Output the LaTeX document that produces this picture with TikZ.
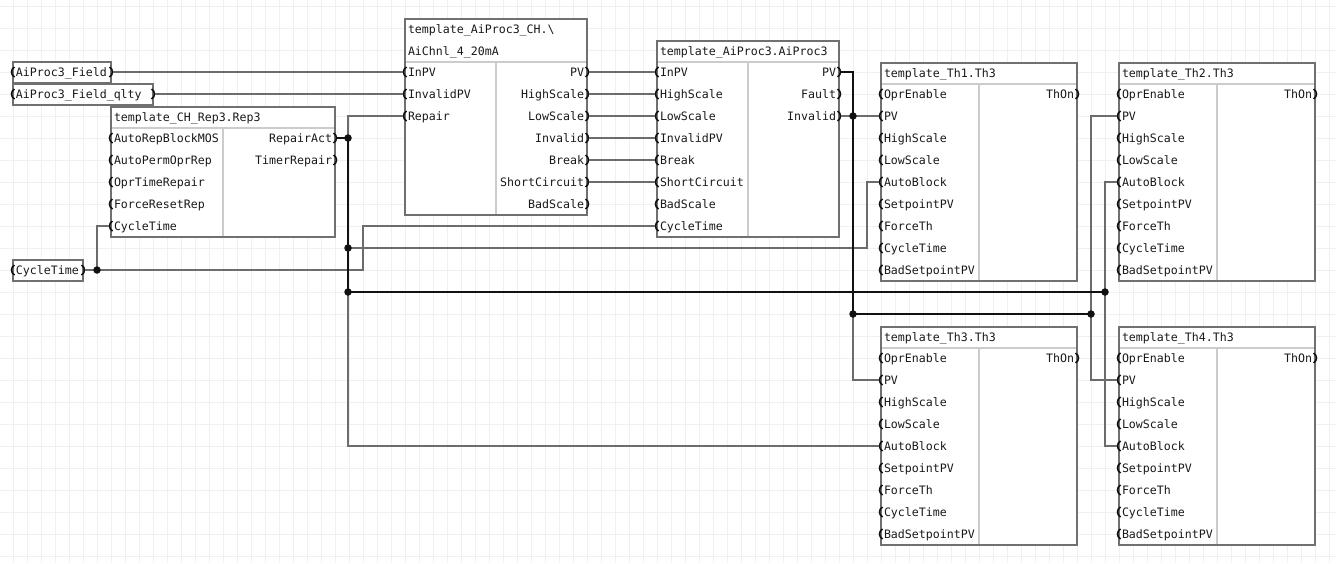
\documentclass[tikz,border=0pt]{standalone}
\usepackage{fontspec}
\setmonofont{DejaVu Sans Mono}
\definecolor{gridc}{RGB}{240,240,240}
\definecolor{boxc}{RGB}{112,112,112}
\definecolor{sepc}{RGB}{204,204,204}
\definecolor{wirec}{RGB}{108,108,108}
\definecolor{busc}{RGB}{17,17,17}
\definecolor{txtc}{RGB}{25,25,25}
\tikzset{
  gridl/.style={draw=gridc, line width=1pt},
  blkbox/.style={draw=boxc, fill=white, line width=2pt, inner sep=0pt, outer sep=0pt, rectangle},
  sepline/.style={draw=sepc, line width=2pt},
  ptxt/.style={inner sep=0pt, outer sep=0pt, text=txtc, font=\ttfamily\fontsize{11.6pt}{13pt}\selectfont},
  brk/.style={draw=busc, line width=1.6pt},
  wire/.style={draw=wirec, line width=2pt},
  bus/.style={draw=busc, line width=2.6pt},
  jdot/.style={circle, fill=busc, inner sep=0pt, minimum size=7.5pt},
}
\newcommand\myblk[7]{%
  \pgfmathsetmacro\mySep{#5-10}%
  \pgfmathsetmacro\myTop{#5-10-22*#7+1}%
  \pgfmathsetmacro\myBot{#5+22*(#6-1)+11}%
  \pgfmathsetmacro\myW{#4-#2}%
  \pgfmathsetmacro\myH{\myBot-\myTop}%
  \node[blkbox, minimum width=\myW pt, minimum height=\myH pt, anchor=north west] (#1) at (#2,\myTop) {};
  \draw[sepline] ({#2+1},\mySep) -- ({#4-1},\mySep);
  \draw[sepline] (#3,\mySep) -- (#3,{\myBot-1});
}
\newcommand\inports[4]{%
  \foreach \n [count=\i from 0] in {#4} {%
    \pgfmathsetmacro\yy{#3+22*\i}%
    \node[ptxt,anchor=base west] (#1-\n-t) at ({#2+3},{\yy+4}) {\n};
    \coordinate (#1-\n) at ({#2-2},\yy);
    \draw[brk] ({#2+1.5},{\yy-5}) .. controls +(-4,2.5) and +(-4,-2.5) .. ({#2+1.5},{\yy+5});
  }%
}
\newcommand\outports[4]{%
  \foreach \n [count=\i from 0] in {#4} {%
    \pgfmathsetmacro\yy{#3+22*\i}%
    \node[ptxt,anchor=base east] (#1-\n-t) at ({#2-3},{\yy+4}) {\n};
    \coordinate (#1-\n) at ({#2+2},\yy);
    \draw[brk] ({#2-1.5},{\yy-5}) .. controls +(4,2.5) and +(4,-2.5) .. ({#2-1.5},{\yy+5});
  }%
}
\newcommand\mytag[5]{% id, xl, xr, row y, text
  \node[blkbox, minimum width={(#3-#2)*1pt}, minimum height=21pt, anchor=north west] (#1) at (#2,{#4-10}) {};
  \node[ptxt,anchor=base west] (#1-t) at ({#2+3},{#4+4}) {#5};
  \draw[brk] ({#2+1.5},{#4-5}) .. controls +(-4,2.5) and +(-4,-2.5) .. ({#2+1.5},{#4+5});
  \draw[brk] ({#3-1.5},{#4-5}) .. controls +(4,2.5) and +(4,-2.5) .. ({#3-1.5},{#4+5});
  \coordinate (#1-o) at ({#3+2},#4);
}
\begin{document}
\begin{tikzpicture}[x=1pt,y=-1pt]
\useasboundingbox (0,0) rectangle (1336,563);
\fill[white] (0,0) rectangle (1336,563);
\foreach \gx in {13,27,...,1329} \draw[gridl] (\gx,0) -- (\gx,563);
\foreach \gy in {6,28,...,556} \draw[gridl] (0,\gy) -- (1336,\gy);

% tags
\mytag{tagA}{13}{111}{72}{AiProc3\_Field}
\mytag{tagB}{13}{153}{94}{AiProc3\_Field\_qlty}
\mytag{tagC}{13}{83}{270}{CycleTime}

% blocks
\myblk{rep}{111}{223}{335}{138}{5}{1}
\node[ptxt,anchor=base west] (rep-title) at (114,121) {template\_CH\_Rep3.Rep3};
\inports{rep}{111}{138}{AutoRepBlockMOS,AutoPermOprRep,OprTimeRepair,ForceResetRep,CycleTime}
\outports{rep}{335}{138}{RepairAct,TimerRepair}

\myblk{ch}{405}{496}{587}{72}{7}{2}
\node[ptxt,anchor=base west] (ch-title1) at (408,33) {template\_AiProc3\_CH.\textbackslash};
\node[ptxt,anchor=base west] (ch-title2) at (408,55) {AiChnl\_4\_20mA};
\inports{ch}{405}{72}{InPV,InvalidPV,Repair}
\outports{ch}{587}{72}{PV,HighScale,LowScale,Invalid,Break,ShortCircuit,BadScale}

\myblk{ap}{657}{748}{839}{72}{8}{1}
\node[ptxt,anchor=base west] (ap-title) at (660,55) {template\_AiProc3.AiProc3};
\inports{ap}{657}{72}{InPV,HighScale,LowScale,InvalidPV,Break,ShortCircuit,BadScale,CycleTime}
\outports{ap}{839}{72}{PV,Fault,Invalid}

\myblk{th1}{881}{979}{1077}{94}{9}{1}
\node[ptxt,anchor=base west] (th1-title) at (884,77) {template\_Th1.Th3};
\inports{th1}{881}{94}{OprEnable,PV,HighScale,LowScale,AutoBlock,SetpointPV,ForceTh,CycleTime,BadSetpointPV}
\outports{th1}{1077}{94}{ThOn}

\myblk{th2}{1119}{1217}{1315}{94}{9}{1}
\node[ptxt,anchor=base west] (th2-title) at (1122,77) {template\_Th2.Th3};
\inports{th2}{1119}{94}{OprEnable,PV,HighScale,LowScale,AutoBlock,SetpointPV,ForceTh,CycleTime,BadSetpointPV}
\outports{th2}{1315}{94}{ThOn}

\myblk{th3}{881}{979}{1077}{358}{9}{1}
\node[ptxt,anchor=base west] (th3-title) at (884,341) {template\_Th3.Th3};
\inports{th3}{881}{358}{OprEnable,PV,HighScale,LowScale,AutoBlock,SetpointPV,ForceTh,CycleTime,BadSetpointPV}
\outports{th3}{1077}{358}{ThOn}

\myblk{th4}{1119}{1217}{1315}{358}{9}{1}
\node[ptxt,anchor=base west] (th4-title) at (1122,341) {template\_Th4.Th3};
\inports{th4}{1119}{358}{OprEnable,PV,HighScale,LowScale,AutoBlock,SetpointPV,ForceTh,CycleTime,BadSetpointPV}
\outports{th4}{1315}{358}{ThOn}

% junctions and waypoints
\coordinate (jC) at (97,270);
\coordinate (wC) at (363,270);
\coordinate (jR1) at (348,138);
\coordinate (jR2) at (348,248);
\coordinate (jR3) at (348,292);
\coordinate (jR4) at (1105,292);
\coordinate (wA) at (867,248);
\coordinate (wP) at (853,72);
\coordinate (jP1) at (853,116);
\coordinate (jP2) at (853,314);
\coordinate (jP3) at (1091,314);

% gray wires
\draw[wire] (tagA-o) -- (ch-InPV);
\draw[wire] (tagB-o) -- (ch-InvalidPV);
\foreach \a/\b in {PV/InPV,HighScale/HighScale,LowScale/LowScale,Invalid/InvalidPV,Break/Break,ShortCircuit/ShortCircuit}
  \draw[wire] (ch-\a) -- (ap-\b);
\draw[wire] (tagC-o) -- (jC);
\draw[wire] (jC) |- (rep-CycleTime);
\draw[wire] (jC) -- (wC) |- (ap-CycleTime);
\draw[wire] (jR1) |- (ch-Repair);
\draw[wire] (jR2) -- (wA) |- (th1-AutoBlock);
\draw[wire] (jR3) |- (th3-AutoBlock);
\draw[wire] (jR4) |- (th2-AutoBlock);
\draw[wire] (jR4) |- (th4-AutoBlock);
\draw[wire] (ap-Invalid) -- (jP1) -- (th1-PV);
\draw[wire] (jP2) |- (th3-PV);
\draw[wire] (jP3) |- (th2-PV);
\draw[wire] (jP3) |- (th4-PV);

% black buses
\draw[bus] (rep-RepairAct) -- (jR1) -- (jR2) -- (jR3) -- (jR4);
\draw[bus] (ap-PV) -- (wP) -- (jP1) -- (jP2) -- (jP3);

% junction dots
\foreach \j in {jC,jR1,jR2,jR3,jR4,jP1,jP2,jP3}
  \node[jdot] (\j-dot) at (\j) {};
\end{tikzpicture}
\end{document}
